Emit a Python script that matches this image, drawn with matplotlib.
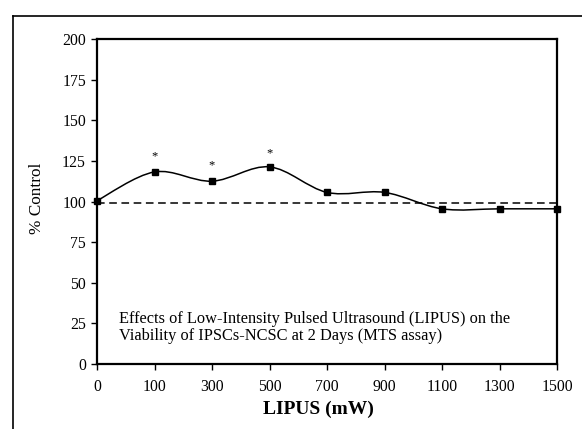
import numpy as np
import matplotlib
matplotlib.use("Agg")
import matplotlib.pyplot as plt
from matplotlib.path import Path
from matplotlib.patches import PathPatch
from matplotlib.lines import Line2D

plt.rcParams['font.family'] = ['Liberation Serif', 'DejaVu Serif']

categories = ["0", "100", "300", "500", "700", "900", "1100", "1300", "1500"]
values = [100.5, 118.2, 112.5, 121.3, 105.6, 105.6, 95.5, 95.5, 95.5]
control_level = 99
star_idx = [1, 2, 3]
star_y = [128, 122.5, 129.5]
yticks = [0, 25, 50, 75, 100, 125, 150, 175, 200]
note = ("Effects of Low-Intensity Pulsed Ultrasound (LIPUS) on the\n"
        "Viability of IPSCs-NCSC at 2 Days (MTS assay)")

W, H = 582, 429
L, R, T, B = 97, 557, 39, 364
fig = plt.figure(figsize=(W/100, H/100), dpi=100)
ax = fig.add_axes([L/W, 1-B/H, (R-L)/W, (B-T)/H])

x = np.arange(len(categories))
y = np.array(values, dtype=float)

# Smoothed line (Catmull-Rom -> cubic Bezier, as in spreadsheet smoothing)
verts = [(x[0], y[0])]
codes = [Path.MOVETO]
n = len(x)
for i in range(n - 1):
    p0 = np.array([x[max(i-1, 0)], y[max(i-1, 0)]])
    p1 = np.array([x[i], y[i]])
    p2 = np.array([x[i+1], y[i+1]])
    p3 = np.array([x[min(i+2, n-1)], y[min(i+2, n-1)]])
    c1 = p1 + (p2 - p0) / 6.0
    c2 = p2 - (p3 - p1) / 6.0
    verts += [tuple(c1), tuple(c2), tuple(p2)]
    codes += [Path.CURVE4] * 3
ax.add_patch(PathPatch(Path(verts, codes), facecolor='none', edgecolor='black',
                       lw=1.1, zorder=3, clip_on=False))
ax.plot(x, y, linestyle='none', marker='s', color='black', markersize=5,
        zorder=4, clip_on=False)

ax.axhline(control_level, color='black', lw=1.1, linestyle=(0, (5, 3)), zorder=2)

for i, sy in zip(star_idx, star_y):
    ax.text(x[i], sy, '*', ha='center', va='center', fontsize=9)

ax.text(0.39, 22.5, note, ha='left', va='center', fontsize=11.8, linespacing=1.1)

ax.set_xlim(0, len(categories) - 1)
ax.set_ylim(0, 200)
ax.set_xticks(x)
ax.set_xticklabels(categories)
ax.set_yticks(yticks)
ax.tick_params(axis='both', direction='out', length=4, width=1, labelsize=11.3, pad=4)
ax.tick_params(axis='x', pad=7)
for s in ax.spines.values():
    s.set_linewidth(1.6)

fig.text(318/W, 1-409/H, 'LIPUS (mW)', fontsize=14, fontweight='bold',
         ha='center', va='center')
fig.text(37/W, 1-198/H, '% Control', fontsize=12.4, rotation=90,
         ha='center', va='center')

# outer frame (left and top edges visible)
fig.add_artist(Line2D([13/W, 13/W], [0, 1-16/H], transform=fig.transFigure,
                      color='black', lw=1.2))
fig.add_artist(Line2D([13/W, 1], [1-16/H, 1-16/H], transform=fig.transFigure,
                      color='black', lw=1.2))

fig.savefig('out.png', dpi=100)
